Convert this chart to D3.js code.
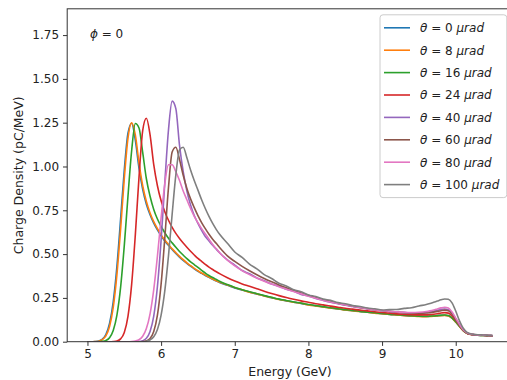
<!DOCTYPE html>
<html>
<head>
<meta charset="utf-8">
<script src="https://cdn.jsdelivr.net/npm/d3@7"></script>
<style>
  body { margin: 0; background: #fff; overflow: hidden; }
  svg { display: block; }
  text { font-family: "DejaVu Sans", sans-serif; fill: #222; }
</style>
</head>
<body>
<svg id="chart" width="507" height="380"></svg>
<script>
// Energy grid (GeV) shared by all spectra
const energy = [5.00,5.05,5.10,5.15,5.20,5.25,5.30,5.35,5.40,5.45,
  5.50,5.55,5.60,5.65,5.70,5.75,5.80,5.85,5.90,5.95,
  6.00,6.05,6.10,6.15,6.20,6.25,6.30,6.35,6.40,6.45,
  6.50,6.55,6.60,6.65,6.70,6.75,6.80,
  6.90,7.00,7.10,7.20,7.30,7.40,7.50,7.60,7.70,7.80,
  7.90,8.00,8.10,8.20,8.30,8.40,8.50,8.60,8.70,8.80,
  8.90,9.00,9.10,9.20,9.30,9.40,9.50,9.60,
  9.65,9.70,9.75,9.80,9.85,9.90,9.95,10.00,10.05,10.10,
  10.15,10.20,10.25,10.30,10.35,10.40,10.45,10.50];

// Charge density (pC/MeV) for each angle theta
const theta0 = [0,0,0.001,0.004,0.014,0.041,0.104,0.228,0.43,0.70,
  0.98,1.19,1.247,1.15,0.99,0.87,0.785,0.725,0.677,0.638,
  0.604,0.575,0.55,0.526,0.504,0.483,0.464,0.447,0.431,0.416,
  0.402,0.39,0.378,0.367,0.356,0.346,0.337,
  0.322,0.307,0.295,0.284,0.272,0.262,0.251,0.242,0.233,0.226,
  0.218,0.211,0.205,0.198,0.193,0.187,0.182,0.177,0.173,0.168,
  0.164,0.16,0.156,0.153,0.15,0.147,0.145,0.144,
  0.145,0.146,0.148,0.15,0.151,0.148,0.135,0.113,0.088,0.064,
  0.049,0.042,0.039,0.037,0.036,0.035,0.034,0.033];

const theta8 = [0,0,0.001,0.003,0.011,0.033,0.087,0.196,0.383,0.642,
  0.93,1.161,1.25,1.18,1.02,0.89,0.80,0.735,0.685,0.645,
  0.61,0.58,0.555,0.53,0.508,0.487,0.468,0.45,0.434,0.419,
  0.405,0.392,0.38,0.369,0.358,0.348,0.339,
  0.323,0.309,0.296,0.283,0.273,0.261,0.252,0.241,0.234,0.225,
  0.219,0.21,0.204,0.199,0.192,0.188,0.181,0.177,0.172,0.169,
  0.163,0.16,0.155,0.153,0.149,0.147,0.144,0.143,
  0.144,0.145,0.147,0.149,0.15,0.147,0.134,0.112,0.087,0.063,
  0.048,0.041,0.038,0.037,0.036,0.035,0.034,0.033];

const theta16 = [0,0,0,0,0.002,0.007,0.023,0.064,0.152,0.31,
  0.548,0.83,1.09,1.245,1.22,1.08,0.93,0.83,0.755,0.70,
  0.658,0.622,0.59,0.564,0.539,0.515,0.494,0.474,0.456,0.44,
  0.424,0.407,0.392,0.378,0.366,0.355,0.344,
  0.326,0.31,0.297,0.285,0.274,0.263,0.253,0.243,0.235,0.227,
  0.22,0.212,0.206,0.2,0.194,0.188,0.183,0.178,0.173,0.169,
  0.165,0.161,0.157,0.154,0.151,0.148,0.146,0.145,
  0.146,0.147,0.149,0.151,0.152,0.149,0.136,0.114,0.089,0.065,
  0.049,0.042,0.039,0.037,0.036,0.035,0.034,0.033];

const theta24 = [0,0,0,0,0,0,0,0.001,0.004,0.016,
  0.053,0.145,0.327,0.61,0.94,1.205,1.275,1.18,1.01,0.89,
  0.804,0.742,0.693,0.653,0.618,0.589,0.563,0.539,0.516,0.495,
  0.475,0.458,0.441,0.426,0.412,0.399,0.387,
  0.365,0.346,0.33,0.316,0.302,0.288,0.275,0.263,0.252,0.242,
  0.233,0.225,0.217,0.21,0.203,0.197,0.191,0.186,0.18,0.176,
  0.171,0.167,0.163,0.159,0.156,0.154,0.153,0.153,
  0.155,0.157,0.16,0.164,0.166,0.163,0.148,0.122,0.094,0.067,
  0.05,0.043,0.04,0.038,0.037,0.036,0.035,0.034];

const theta40 = [0,0,0,0,0,0,0,0,0,0,
  0,0,0,0,0.001,0.006,0.019,0.058,0.146,0.315,
  0.579,0.906,1.208,1.373,1.33,1.12,0.97,0.86,0.78,0.72,
  0.675,0.635,0.60,0.575,0.55,0.527,0.505,
  0.467,0.437,0.406,0.388,0.364,0.348,0.329,0.317,0.299,0.288,
  0.27,0.261,0.247,0.236,0.226,0.217,0.208,0.201,0.194,0.188,
  0.182,0.177,0.172,0.168,0.166,0.164,0.164,0.167,
  0.17,0.174,0.179,0.184,0.187,0.183,0.163,0.131,0.097,0.069,
  0.051,0.043,0.04,0.038,0.037,0.036,0.035,0.034];

const theta60 = [0,0,0,0,0,0,0,0,0,0,
  0,0,0,0,0,0.001,0.005,0.018,0.058,0.152,
  0.329,0.591,0.879,1.083,1.11,1.04,0.95,0.875,0.815,0.765,
  0.72,0.68,0.645,0.613,0.585,0.56,0.535,
  0.49,0.458,0.43,0.405,0.382,0.361,0.342,0.324,0.308,0.293,
  0.278,0.265,0.252,0.24,0.23,0.22,0.211,0.203,0.196,0.189,
  0.183,0.178,0.173,0.169,0.166,0.164,0.163,0.164,
  0.166,0.169,0.173,0.177,0.18,0.177,0.158,0.128,0.096,0.068,
  0.05,0.043,0.04,0.038,0.037,0.036,0.035,0.034];

const theta80 = [0,0,0,0,0,0,0,0,0,0,
  0,0,0.001,0.004,0.011,0.031,0.075,0.159,0.297,0.488,
  0.707,0.90,1.01,1.01,0.97,0.92,0.86,0.81,0.76,0.715,
  0.68,0.645,0.615,0.585,0.555,0.53,0.505,
  0.465,0.433,0.406,0.383,0.363,0.345,0.329,0.314,0.30,0.286,
  0.273,0.26,0.248,0.237,0.227,0.218,0.21,0.202,0.195,0.189,
  0.183,0.178,0.174,0.17,0.168,0.167,0.168,0.172,
  0.176,0.181,0.187,0.193,0.197,0.193,0.17,0.135,0.10,0.07,
  0.052,0.044,0.041,0.039,0.038,0.037,0.036,0.035];

const theta100 = [0,0,0,0,0,0,0,0,0,0,
  0,0,0,0,0,0,0.003,0.01,0.028,0.069,
  0.152,0.29,0.49,0.728,0.952,1.095,1.11,1.05,0.98,0.92,
  0.865,0.81,0.76,0.715,0.675,0.64,0.61,
  0.562,0.512,0.481,0.443,0.416,0.383,0.361,0.334,0.318,0.297,
  0.285,0.267,0.258,0.243,0.236,0.223,0.217,0.206,0.201,0.192,
  0.188,0.181,0.183,0.184,0.19,0.194,0.204,0.212,
  0.218,0.225,0.232,0.239,0.244,0.242,0.222,0.175,0.12,0.078,
  0.055,0.046,0.042,0.04,0.039,0.038,0.037,0.036];

const thetaLabels = ["0", "8", "16", "24", "40", "60", "80", "100"];
const seriesValues = [theta0, theta8, theta16, theta24, theta40, theta60, theta80, theta100];
const colors = ["#1f77b4", "#ff7f0e", "#2ca02c", "#d62728", "#9467bd", "#8c564b", "#e377c2", "#7f7f7f"];

const xTicks = [5, 6, 7, 8, 9, 10];
const yTicks = [0, 0.25, 0.5, 0.75, 1.0, 1.25, 1.5, 1.75];

// ---- layout ----
const svg = d3.select("#chart");
const plot = { left: 67.2, right: 512.8, top: 8.8, bottom: 341.7 };

const x = d3.scaleLinear().domain([4.725, 10.775]).range([plot.left, plot.right]);
const y = d3.scaleLinear().domain([0, 1.9]).range([plot.bottom, plot.top]);

svg.append("defs").append("clipPath").attr("id", "plotClip")
  .append("rect")
  .attr("x", plot.left).attr("y", plot.top)
  .attr("width", plot.right - plot.left).attr("height", plot.bottom - plot.top);

// ---- spectra ----
const line = d3.line()
  .x(d => x(d[0]))
  .y(d => y(d[1]))
  .curve(d3.curveMonotoneX);

const lines = svg.append("g").attr("clip-path", "url(#plotClip)");
seriesValues.forEach((vals, i) => {
  lines.append("path")
    .datum(energy.map((e, k) => [e, vals[k]]))
    .attr("fill", "none")
    .attr("stroke", colors[i])
    .attr("stroke-width", 1.6)
    .attr("stroke-linejoin", "round")
    .attr("d", line);
});

// ---- axes ----
const xAxis = d3.axisBottom(x).tickValues(xTicks).tickFormat(d3.format("d"))
  .tickSize(4.2).tickSizeOuter(0).tickPadding(4);
const yAxis = d3.axisLeft(y).tickValues(yTicks).tickFormat(d3.format(".2f"))
  .tickSize(4.2).tickSizeOuter(0).tickPadding(4);

const gx = svg.append("g").attr("transform", `translate(0,${plot.bottom})`).call(xAxis);
const gy = svg.append("g").attr("transform", `translate(${plot.left},0)`).call(yAxis);
[gx, gy].forEach(g => {
  g.select(".domain").remove();
  g.selectAll("line").attr("stroke", "#333").attr("stroke-width", 1);
  g.selectAll("text").attr("fill", "#222")
    .style("font-family", "'DejaVu Sans', sans-serif").style("font-size", "12px");
});

// frame
svg.append("rect")
  .attr("x", plot.left).attr("y", plot.top)
  .attr("width", plot.right - plot.left).attr("height", plot.bottom - plot.top)
  .attr("fill", "none").attr("stroke", "#333").attr("stroke-width", 1);

// axis labels
svg.append("text")
  .attr("x", (plot.left + plot.right) / 2).attr("y", 376)
  .attr("text-anchor", "middle").style("font-size", "12.5px")
  .text("Energy (GeV)");

svg.append("text")
  .attr("transform", `translate(23,${(plot.top + plot.bottom) / 2}) rotate(-90)`)
  .attr("text-anchor", "middle").style("font-size", "12.5px")
  .text("Charge Density (pC/MeV)");

// phi annotation
const phi = svg.append("text").attr("x", 90).attr("y", 37.5).style("font-size", "12px");
phi.append("tspan").attr("font-style", "italic").text("ϕ");
phi.append("tspan").text(" = 0");

// ---- legend ----
const legend = { left: 380, top: 14.8, right: 506.8, rowH: 22.4 };
svg.append("rect")
  .attr("x", legend.left).attr("y", legend.top)
  .attr("width", legend.right - legend.left)
  .attr("height", 9.6 + thetaLabels.length * 16.4 + (thetaLabels.length - 1) * 6)
  .attr("rx", 3)
  .attr("fill", "#fff").attr("fill-opacity", 0.8)
  .attr("stroke", "#cccccc").attr("stroke-width", 1);

thetaLabels.forEach((lab, i) => {
  const cy = legend.top + 4.8 + 8.2 + i * legend.rowH;
  svg.append("line")
    .attr("x1", legend.left + 4).attr("x2", legend.left + 30)
    .attr("y1", cy).attr("y2", cy)
    .attr("stroke", colors[i]).attr("stroke-width", 1.6);
  const t = svg.append("text")
    .attr("x", legend.left + 40).attr("y", cy + 4.3)
    .style("font-size", "12px");
  t.append("tspan").attr("font-style", "italic").text("θ");
  t.append("tspan").text(" = " + lab + " ");
  t.append("tspan").attr("font-style", "italic").text("μrad");
});
</script>
</body>
</html>
